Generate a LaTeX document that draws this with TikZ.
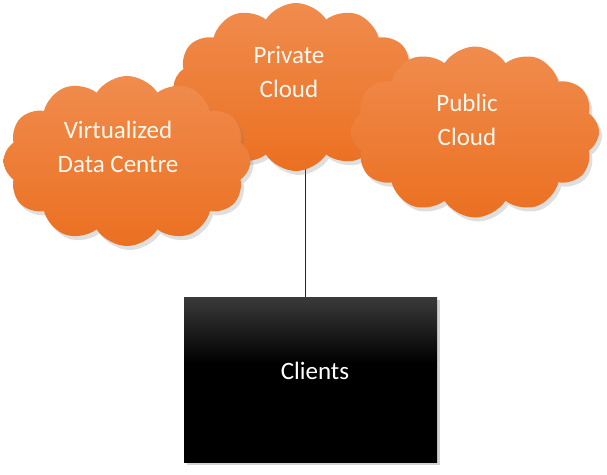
\documentclass[tikz,border=0pt]{standalone}
\usepackage{fontspec}
\setmainfont{Carlito}
\usetikzlibrary{shapes.symbols,shadows,backgrounds}
\definecolor{orTop}{HTML}{F08C4E}
\definecolor{orBot}{HTML}{EB7021}
\definecolor{txtLight}{HTML}{FFF8EE}
\definecolor{boxTop}{HTML}{3A3A3A}
\pgfdeclareverticalshading{clientshade}{100bp}{color(0bp)=(black); color(25bp)=(black); color(55bp)=(black); color(75bp)=(boxTop); color(100bp)=(boxTop)}
\tikzset{
  cloudbox/.style={shape=cloud, cloud puffs=12, cloud puff arc=115, cloud ignores aspect,
    inner sep=0pt, top color=orTop, bottom color=orBot, draw=none,
    drop shadow={opacity=0.25, shadow xshift=3pt, shadow yshift=-4pt}},
  cloudtext/.style={text=txtLight, align=center, font=\fontsize{25}{34}\selectfont},
  clientbox/.style={rectangle, inner sep=0pt, minimum width=253pt, minimum height=165pt,
    shading=clientshade, draw=none,
    drop shadow={opacity=0.35, shadow xshift=3pt, shadow yshift=-3pt}},
  link/.style={draw=black!85, line width=1pt}
}
\begin{document}
\begin{tikzpicture}[x=1pt,y=-1pt]
\useasboundingbox (0,0) rectangle (607,474);
\node[cloudbox, minimum width=245pt, minimum height=168pt] (private) at (296,87) {};
\node[cloudbox, minimum width=247pt, minimum height=170pt] (virtual) at (127,161) {};
\node[cloudbox, minimum width=248pt, minimum height=171pt] (public) at (475,132) {};
\node[cloudtext] (privatetxt) at (289,72) {Private\\Cloud};
\node[cloudtext] (virtualtxt) at (118,147) {Virtualized\\Data Centre};
\node[cloudtext] (publictxt) at (467,120) {Public\\Cloud};
\node[clientbox] (clients) at (310.5,379.5) {};
\node[text=white, font=\fontsize{25}{30}\selectfont] (clientstxt) at (315,371) {Clients};
\begin{scope}[on background layer]
\draw[link] ([xshift=-5pt]clients.north) -- ([xshift=-5pt]clients.north |- private.center);
\end{scope}
\end{tikzpicture}
\end{document}
